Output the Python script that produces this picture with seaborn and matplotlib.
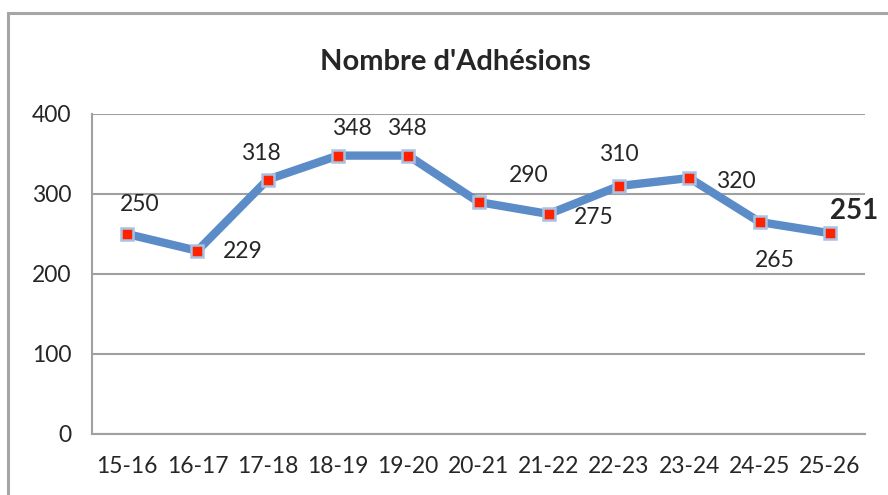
import pandas as pd
import matplotlib.pyplot as plt
import seaborn as sns
from matplotlib.patches import Rectangle

saisons = ['15-16', '16-17', '17-18', '18-19', '19-20', '20-21',
           '21-22', '22-23', '23-24', '24-25', '25-26']
adhesions = [250, 229, 318, 348, 348, 290, 275, 310, 320, 265, 251]

# label offsets in pixels (hand placed like the original)
offsets = [(13, 29), (45, -1), (-7, 26), (14, 27), (-1, 27), (50, 26),
           (45, -4), (0, 31), (47, -4), (15, -39), (24, 22)]

sns.set_style('white')
plt.rcParams['font.family'] = ['Lato', 'DejaVu Sans']

df = pd.DataFrame({'pos': range(len(saisons)), 'saison': saisons, 'n': adhesions})

fig = plt.figure(figsize=(8.88, 4.95), dpi=100)
fig.patches.append(Rectangle((8 / 888, -0.1), 1.2, 1 - 13 / 495 + 0.1,
                             transform=fig.transFigure, fill=False,
                             edgecolor='#a6a6a6', linewidth=2.2, zorder=0))
ax = fig.add_axes([92 / 888, 1 - 434 / 495, (865 - 92) / 888, (434 - 114) / 495])

sns.lineplot(data=df, x='pos', y='n', ax=ax, color='#5b8cc8', linewidth=6,
             marker='s', markersize=8.5, markerfacecolor='#ff2200',
             markeredgecolor='#a9c2e3', markeredgewidth=1.8)

ax.set_ylim(0, 400)
ax.set_xlim(-0.5, len(saisons) - 0.5)
ax.set_yticks([0, 100, 200, 300, 400])
ax.set_xticks([i - 0.5 for i in range(len(saisons) + 1)])
ax.set_xticklabels([])
ax.set_xticks(range(len(saisons)), minor=True)
ax.set_xticklabels(saisons, minor=True)
ax.tick_params(axis='x', which='major', length=7, width=1.5, color='#a0a0a0', direction='out')
ax.tick_params(axis='x', which='minor', length=0, pad=16, labelsize=16.5)
ax.tick_params(axis='y', length=8, width=1.5, color='#a0a0a0', direction='out', pad=7, labelsize=16.5)
ax.set_xlabel('')
ax.set_ylabel('')

ax.yaxis.grid(True, color='#a0a0a0', linewidth=1.5)
ax.set_axisbelow(True)
for s in ['top', 'right']:
    ax.spines[s].set_visible(False)
for s in ['left', 'bottom']:
    ax.spines[s].set_color('#a0a0a0')
    ax.spines[s].set_linewidth(1.5)

for i, (v, off) in enumerate(zip(adhesions, offsets)):
    last = i == len(adhesions) - 1
    ax.annotate(str(v), (i, v), xytext=off, textcoords='offset pixels',
                ha='center', va='center', fontsize=20 if last else 16.5,
                fontweight='bold' if last else 'normal')

fig.text(455 / 888, 1 - 62 / 495, "Nombre d'Adhésions", ha='center', va='center',
         fontsize=21, fontweight='bold')

fig.savefig('out.png', dpi=100)
